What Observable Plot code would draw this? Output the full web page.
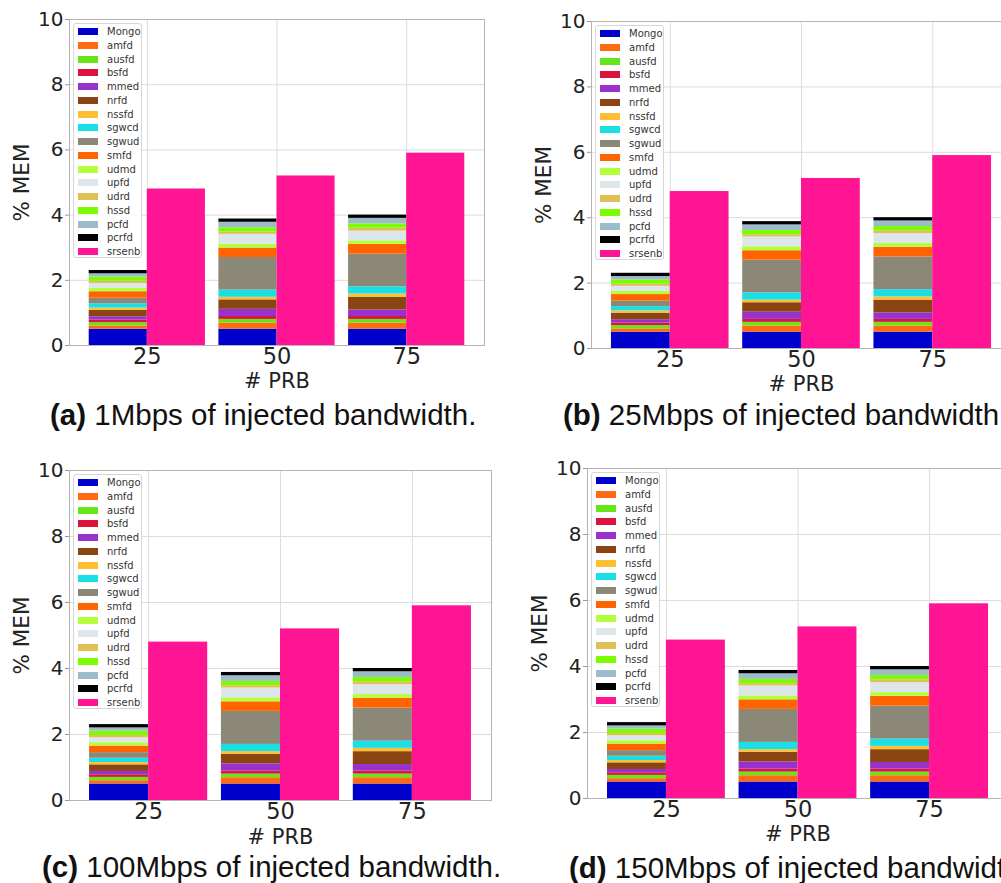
<!DOCTYPE html>
<html>
<head>
<meta charset="utf-8">
<script src="https://cdn.jsdelivr.net/npm/d3@7"></script>
<script src="https://cdn.jsdelivr.net/npm/@observablehq/plot@0.6"></script>
<style>
  html, body { margin: 0; padding: 0; background: #fff; }
  body { width: 1001px; height: 883px; overflow: hidden; position: relative; }
  .panel { position: absolute; }
  .legend {
    position: absolute; box-sizing: border-box;
    background: rgba(255,255,255,0.85);
    border: 1px solid #d6d6d6; border-radius: 3px;
    font: 10px "DejaVu Sans", sans-serif; color: #333;
  }
  .legend .row { position: absolute; left: 0; height: 10px; display: flex; align-items: center; white-space: nowrap; }
  .legend .sw { width: 20px; height: 7px; margin-left: 4px; margin-right: 9px; flex: none; }
  .cap {
    position: absolute; white-space: nowrap; transform: translateY(-50%);
    font: 29.5px "Liberation Sans", Arial, sans-serif; line-height: 1.05; color: #111;
  }
  .cap b { font-weight: bold; }
</style>
</head>
<body>
<script>
// Memory usage (% MEM) of the core network services and the eNB, per number of PRBs
const prb = [25, 50, 75];
const yTicks = [0, 2, 4, 6, 8, 10];

const services = ["Mongo", "amfd", "ausfd", "bsfd", "mmed", "nrfd", "nssfd", "sgwcd",
                  "sgwud", "smfd", "udmd", "upfd", "udrd", "hssd", "pcfd", "pcrfd"];

// one value per PRB setting (25, 50, 75)
const Mongo = [0.50, 0.50, 0.50];
const amfd  = [0.10, 0.19, 0.19];
const ausfd = [0.10, 0.11, 0.11];
const bsfd  = [0.08, 0.09, 0.09];
const mmed  = [0.10, 0.22, 0.20];
const nrfd  = [0.20, 0.29, 0.39];
const nssfd = [0.07, 0.08, 0.10];
const sgwcd = [0.13, 0.22, 0.22];
const sgwud = [0.17, 1.00, 1.00];
const smfd  = [0.20, 0.29, 0.30];
const udmd  = [0.10, 0.12, 0.11];
const upfd  = [0.15, 0.30, 0.30];
const udrd  = [0.07, 0.07, 0.09];
const hssd  = [0.13, 0.13, 0.13];
const pcfd  = [0.10, 0.17, 0.17];
const pcrfd = [0.10, 0.10, 0.10];
const srsenb = [4.8, 5.2, 5.9];

const series = [Mongo, amfd, ausfd, bsfd, mmed, nrfd, nssfd, sgwcd,
                sgwud, smfd, udmd, upfd, udrd, hssd, pcfd, pcrfd];

const palette = ["#0000cd", "#ff6a13", "#66e61a", "#dc143c", "#9932cc", "#8b4513",
                 "#ffbf33", "#1ae0e6", "#8b8878", "#ff6400", "#b4ff3c", "#dde6ea",
                 "#e0c055", "#7cfc00", "#9dbccb", "#000000", "#ff1493"];

const captionTags  = ["(a)", "(b)", "(c)", "(d)"];
const captionTexts = [" 1Mbps of injected bandwidth.", " 25Mbps of injected bandwidth.",
                      " 100Mbps of injected bandwidth.", " 150Mbps of injected bandwidth."];

// stacked rows for the core services, one bar per PRB setting
const stackRows = [];
prb.forEach((p, j) => {
  let acc = 0;
  services.forEach((s, i) => {
    const v = series[i][j];
    stackRows.push({prb: p, service: s, y1: acc, y2: acc + v});
    acc += v;
  });
});
const srsRows = prb.map((p, j) => ({prb: p, service: "srsenb", value: srsenb[j]}));

const barW = 11.2;  // bar width in PRB units

// frame placement of the four panels on the page
const layout = [
  {L: 69,  R: 484,  T: 19,  B: 345, labelDy: 35.5, capL: 50,  capY: 415},
  {L: 591, R: 1011, T: 21,  B: 348, labelDy: 35.5, capL: 563, capY: 415},
  {L: 69,  R: 491,  T: 470, B: 800, labelDy: 37,   capL: 42,  capY: 867},
  {L: 587, R: 1008, T: 468, B: 798, labelDy: 36,   capL: 569, capY: 868}
];

const mL = 69, mR = 12, mT = 19, mB = 70;

layout.forEach((pos, k) => {
  const chart = Plot.plot({
    width: pos.R - pos.L + mL + mR,
    height: pos.B - pos.T + mT + mB,
    marginLeft: mL, marginRight: mR, marginTop: mT, marginBottom: mB,
    style: {fontFamily: "DejaVu Sans, sans-serif", fontSize: "20px", color: "#222", background: "transparent", overflow: "visible"},
    x: {type: "linear", domain: [10, 90]},
    y: {domain: [0, 10]},
    color: {domain: [...services, "srsenb"], range: palette},
    marks: [
      Plot.gridX(prb, {stroke: "#dcdcdc", strokeOpacity: 1}),
      Plot.gridY(yTicks, {stroke: "#dcdcdc", strokeOpacity: 1}),
      Plot.rect(stackRows, {x1: d => d.prb - barW, x2: "prb", y1: "y1", y2: "y2", fill: "service"}),
      Plot.rect(srsRows, {x1: "prb", x2: d => d.prb + barW, y1: 0, y2: "value", fill: "service"}),
      Plot.frame({stroke: "#b5b5b5"}),
      Plot.axisY(yTicks, {tickSize: 4, tickPadding: 2, fontSize: 20, stroke: "#999", fill: "#222", label: null}),
      Plot.axisX(prb, {tickSize: 0, tickPadding: 3, fontSize: 22.5, fill: "#222", label: null}),
      Plot.text(["% MEM"], {frameAnchor: "left", rotate: -90, dx: -47, textAnchor: "middle", lineAnchor: "middle", fontSize: 21.5, fill: "#222"}),
      Plot.text(["# PRB"], {frameAnchor: "bottom", dy: pos.labelDy, textAnchor: "middle", lineAnchor: "middle", fontSize: 21, fill: "#222"})
    ]
  });
  chart.classList.add("panel");
  chart.style.left = (pos.L - mL) + "px";
  chart.style.top = (pos.T - mT) + "px";
  document.body.appendChild(chart);

  // legend box in the upper-left corner of the axes
  const leg = document.createElement("div");
  leg.className = "legend";
  leg.style.left = (pos.L + 4) + "px";
  leg.style.top = (pos.T + 4) + "px";
  leg.style.width = "69px";
  leg.style.height = "235px";
  [...services, "srsenb"].forEach((s, i) => {
    const row = document.createElement("div");
    row.className = "row";
    row.style.top = (7.5 + i * 13.75 - 5) + "px";
    const sw = document.createElement("span");
    sw.className = "sw";
    sw.style.background = palette[i];
    const lab = document.createElement("span");
    lab.textContent = s;
    row.append(sw, lab);
    leg.appendChild(row);
  });
  document.body.appendChild(leg);

  const cap = document.createElement("div");
  cap.className = "cap";
  cap.style.left = pos.capL + "px";
  cap.style.top = pos.capY + "px";
  const b = document.createElement("b");
  b.textContent = captionTags[k];
  cap.append(b, document.createTextNode(captionTexts[k]));
  document.body.appendChild(cap);
});
</script>
</body>
</html>
